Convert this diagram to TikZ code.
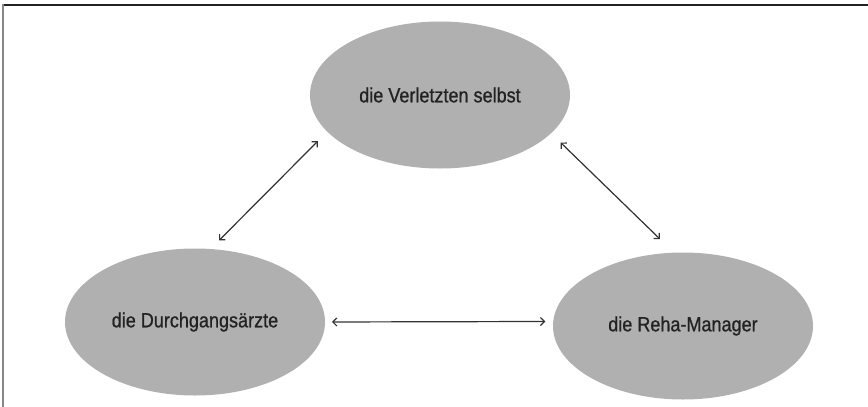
\documentclass[tikz,border=0pt]{standalone}
\usepackage{fontspec}
\setmainfont[FakeStretch=0.88,FakeBold=0.8]{Liberation Sans}
\usetikzlibrary{arrows.meta,shapes.geometric}
\definecolor{fillgray}{RGB}{176,176,176}
\definecolor{textdark}{RGB}{34,34,34}
\definecolor{framedark}{RGB}{34,34,34}
\definecolor{framegray}{RGB}{136,136,136}
\definecolor{arrowdark}{RGB}{50,50,50}
\tikzset{
  bubble/.style={ellipse, fill=fillgray, draw=none, minimum width=260pt, minimum height=147pt,
    inner sep=0pt, outer sep=0pt, text=textdark, font=\fontsize{20.5}{23}\selectfont},
  link/.style={draw=arrowdark, line width=1.2pt, {Straight Barb[length=4pt,width=8pt]}-{Straight Barb[length=4pt,width=8pt]}},
}
\begin{document}
\begin{tikzpicture}[x=1pt,y=-1pt]
\useasboundingbox (0,0) rectangle (868,407);
\draw[framedark, line width=2pt] (2,5) -- (868,5);
\draw[framegray, line width=2.5pt] (3,4) -- (3,407);
\node[bubble] (top) at (440,95) {die Verletzten selbst};
\node[bubble] (left) at (195,322) {die Durchgangsärzte};
\node[bubble] (right) at (683,326) {die Reha-Manager};
\draw[link, shorten <=13.4pt, shorten >=12.1pt] (top.198.6) -- (left.78.2);
\draw[link, shorten <=13.4pt, shorten >=19.6pt] (top.341.4) -- (right.97);
\draw[link, shorten <=7pt, shorten >=8pt] (left.0) -- (right.178.2);
\end{tikzpicture}
\end{document}
